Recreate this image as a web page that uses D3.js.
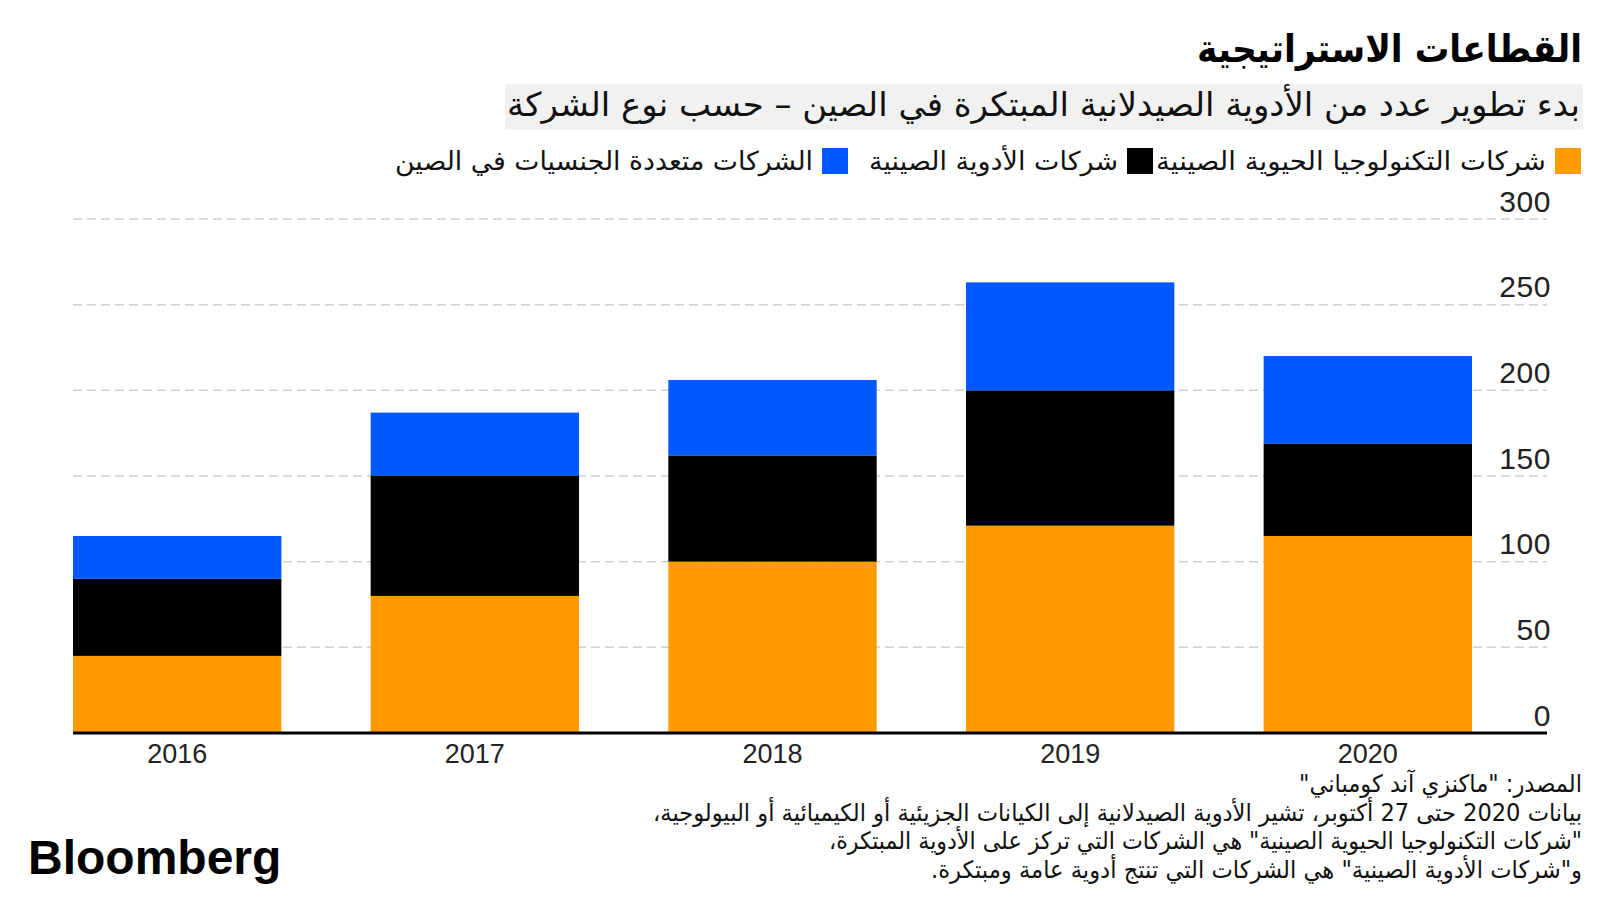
<!DOCTYPE html>
<html><head><meta charset="utf-8">
<script src="https://cdn.jsdelivr.net/npm/d3@7"></script>
<style>
html,body{margin:0;padding:0;background:#fff;}
svg{display:block;}
</style></head>
<body>
<script>
// ---- data ----
const years = ["2016","2017","2018","2019","2020"];
const seriesKeys = ["biotech","pharma","mnc"];
const seriesNames = ["شركات التكنولوجيا الحيوية الصينية","شركات الأدوية الصينية","الشركات متعددة الجنسيات في الصين"];
const seriesColors = ["#FF9A00","#000000","#0058FF"];
const biotech = [45, 80, 100, 121, 115];
const pharma  = [45, 70, 62, 79, 54];
const mnc     = [25, 37, 44, 63, 51];
const yTicks = [0, 50, 100, 150, 200, 250, 300];
const title = "القطاعات الاستراتيجية";
const subtitle = "بدء تطوير عدد من الأدوية الصيدلانية المبتكرة في الصين – حسب نوع الشركة";
const footer = [
  "المصدر: \"ماكنزي آند كومباني\"",
  "بيانات 2020 حتى 27 أكتوبر، تشير الأدوية الصيدلانية إلى الكيانات الجزيئية أو الكيميائية أو البيولوجية،",
  "\"شركات التكنولوجيا الحيوية الصينية\" هي الشركات التي تركز على الأدوية المبتكرة،",
  "و\"شركات الأدوية الصينية\" هي الشركات التي تنتج أدوية عامة ومبتكرة."
];

const W = 1600, H = 900;
const AR = "'DejaVu Sans Condensed','DejaVu Sans',sans-serif";
const LAT = "'Liberation Sans',Arial,Helvetica,sans-serif";

const svg = d3.select("body").append("svg").attr("width", W).attr("height", H);

const rows = years.map((y,i)=>({year:y, biotech:biotech[i], pharma:pharma[i], mnc:mnc[i]}));
const stacked = d3.stack().keys(seriesKeys)(rows);

const x = d3.scaleBand().domain(years).range([73, 1472]).paddingInner(0.3).paddingOuter(0);
const y = d3.scaleLinear().domain([0, 300]).range([733, 219]);
const color = d3.scaleOrdinal().domain(seriesKeys).range(seriesColors);

// gridlines
const grid = svg.append("g");
grid.selectAll("line").data(yTicks.filter(t=>t>0)).join("line")
  .attr("x1", 73).attr("x2", 1547)
  .attr("y1", d=>y(d)).attr("y2", d=>y(d))
  .attr("stroke", "#cfcfcf").attr("stroke-width", 1.5)
  .attr("stroke-dasharray", "9,5");

// bars
svg.append("g").selectAll("g").data(stacked).join("g")
  .attr("fill", d=>color(d.key))
  .selectAll("rect").data(d=>d).join("rect")
  .attr("x", d=>x(d.data.year))
  .attr("width", x.bandwidth())
  .attr("y", d=>y(d[1]))
  .attr("height", d=>y(d[0]) - y(d[1]));

// y axis labels
const yAxis = d3.axisRight(y).tickValues(yTicks).tickSize(0).tickPadding(0);
const ya = svg.append("g").attr("transform", "translate(1551,-8)").call(yAxis);
ya.select(".domain").remove();
ya.selectAll("text")
  .attr("x", 0).attr("dy", 0)
  .attr("text-anchor", "end")
  .attr("font-family", LAT).attr("font-size", 30).attr("letter-spacing", 0.6).attr("fill", "#222");

// baseline
svg.append("line").attr("x1", 73).attr("x2", 1547)
  .attr("y1", y(0)).attr("y2", y(0))
  .attr("stroke", "#000").attr("stroke-width", 3);

// x axis labels
const xAxis = d3.axisBottom(x).tickSize(0).tickPadding(0);
const xa = svg.append("g").attr("transform", `translate(0,${y(0)})`).call(xAxis);
xa.select(".domain").remove();
xa.selectAll("text")
  .attr("y", 30).attr("dy", 0)
  .attr("font-family", LAT).attr("font-size", 27).attr("fill", "#222");

// title
svg.append("text").text(title)
  .attr("x", 1582).attr("y", 62)
  .attr("direction", "rtl").attr("text-anchor", "start")
  .attr("font-family", AR).attr("font-weight", "bold").attr("font-size", 38)
  .attr("textLength", 385).attr("lengthAdjust", "spacingAndGlyphs")
  .attr("fill", "#000");

// subtitle box + text
svg.append("rect").attr("x", 505).attr("y", 84).attr("width", 1078).attr("height", 46).attr("fill", "#f1f1f1");
svg.append("text").text(subtitle)
  .attr("x", 1580).attr("y", 116)
  .attr("direction", "rtl").attr("text-anchor", "start")
  .attr("font-family", AR).attr("font-size", 33)
  .attr("textLength", 1073).attr("lengthAdjust", "spacingAndGlyphs")
  .attr("fill", "#111");

// legend
const legendSquareX = [1555, 1127, 822];
const legendTextW = [390, 249, 418];
const lg = svg.append("g");
seriesKeys.forEach((k,i)=>{
  lg.append("rect").attr("x", legendSquareX[i]).attr("y", 148).attr("width", 26).attr("height", 26)
    .attr("fill", color(k));
  lg.append("text").text(seriesNames[i])
    .attr("x", legendSquareX[i] - 9).attr("y", 170)
    .attr("direction", "rtl").attr("text-anchor", "start")
    .attr("font-family", AR).attr("font-size", 26)
    .attr("textLength", legendTextW[i]).attr("lengthAdjust", "spacingAndGlyphs")
    .attr("fill", "#111");
});

// footer
const footerW = [283, 929, 753, 651];
svg.append("g").selectAll("text").data(footer).join("text")
  .text(d=>d)
  .attr("x", 1582).attr("y", (d,i)=>792 + i*28.5)
  .attr("direction", "rtl").attr("text-anchor", "start")
  .attr("font-family", AR).attr("font-size", 24)
  .attr("textLength", (d,i)=>footerW[i]).attr("lengthAdjust", "spacingAndGlyphs")
  .attr("fill", "#111");

// logo
svg.append("text").text("Bloomberg")
  .attr("x", 28).attr("y", 874)
  .attr("font-family", LAT).attr("font-weight", "bold").attr("font-size", 48)
  .attr("letter-spacing", 0)
  .attr("fill", "#000");
</script>
</body></html>
